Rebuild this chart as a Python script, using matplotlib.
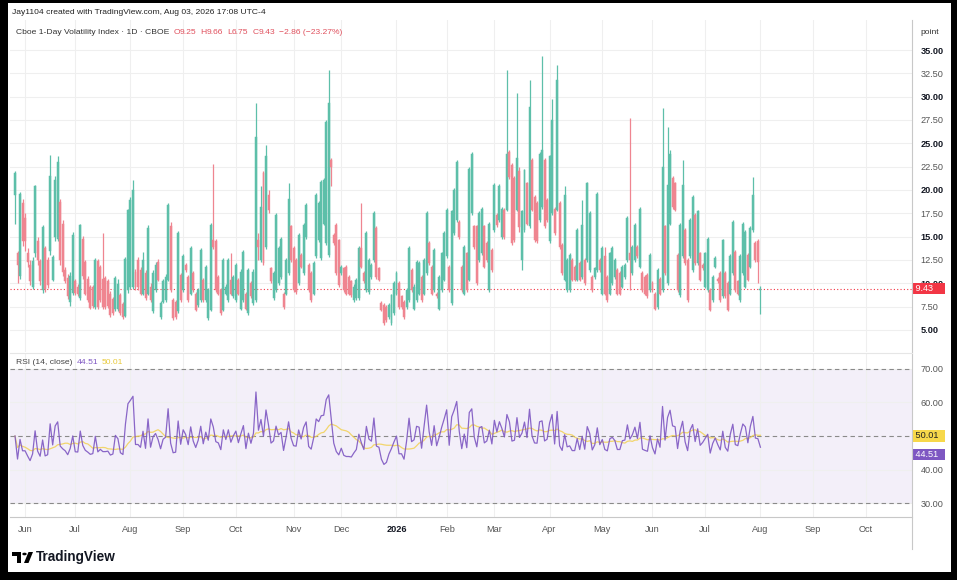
import numpy as np
import pandas as pd
import matplotlib
matplotlib.use("Agg")
import matplotlib.pyplot as plt
from matplotlib.patches import Rectangle, Circle, Polygon
from matplotlib.lines import Line2D
from matplotlib.transforms import blended_transform_factory

# daily candles, Cboe 1-Day Volatility Index
opens = [
    19.5, 13.2, 10.8, 18.6, 17.0, 13.3, 12.0, 9.6, 13.2, 14.5,
    12.4, 9.3, 13.8, 12.5, 13.5, 10.4, 15.0, 14.7, 18.7, 16.4,
    11.4, 10.6, 8.0, 9.0, 10.3, 9.6, 8.4, 14.8, 12.3, 10.5,
    9.6, 9.6, 7.5, 12.4, 11.8, 10.5, 10.6, 10.3, 8.9, 8.3,
    7.2, 7.2, 8.8, 7.8, 6.5, 9.3, 9.6, 9.6, 11.2, 12.5,
    11.4, 8.9, 11.1, 8.9, 9.65, 7.0, 9.3, 12.3, 6.4, 8.05,
    8.2, 10.4, 16.1, 8.2, 8.05, 7.0, 10.9, 9.3, 12.0, 10.7,
    8.9, 11.1, 8.9, 7.7, 8.2, 10.4, 8.2, 6.25, 7.15, 14.6,
    14.5, 10.7, 9.3, 7.15, 8.9, 8.2, 10.4, 8.6, 8.2, 10.4,
    7.3, 8.2, 8.9, 6.8, 10.0, 7.9, 8.2, 14.6, 12.5, 21.8,
    13.9, 19.5, 11.6, 8.4, 9.3, 10.0, 10.7, 8.9, 8.9, 11.1,
    16.1, 13.8, 12.5, 10.0, 13.0, 11.1, 15.0, 12.0, 11.1, 8.9,
    12.9, 14.6, 12.7, 16.4, 14.3, 13.0, 23.2, 15.2, 16.25, 14.6,
    11.1, 11.6, 11.8, 10.7, 10.2, 8.2, 8.4, 8.4, 13.8, 11.1,
    9.3, 9.1, 10.7, 12.5, 15.9, 11.6, 7.9, 7.7, 7.5, 6.4,
    5.7, 6.8, 8.9, 10.0, 8.6, 8.05, 7.5, 8.2, 11.4, 7.3,
    8.2, 8.9, 10.7, 8.9, 11.1, 14.3, 11.8, 9.3, 8.9, 7.3,
    9.3, 10.4, 12.9, 11.8, 7.9, 15.4, 16.8, 16.6, 11.8, 8.9,
    13.2, 10.4, 17.5, 16.1, 16.1, 12.5, 13.2, 16.1, 14.3, 9.3,
    13.6, 15.7, 17.3, 16.8, 15.0, 17.9, 17.9, 24.1, 22.7, 21.25,
    17.9, 22.0, 12.5, 15.7, 20.7, 16.1, 23.2, 19.3, 18.6, 16.8,
    18.2, 23.2, 18.9, 14.5, 17.5, 18.0, 17.9, 18.6, 14.1, 10.4,
    9.3, 9.3, 12.5, 11.8, 10.4, 12.15, 10.7, 12.5, 12.5, 11.4,
    10.7, 10.7, 11.4, 12.5, 8.9, 12.9, 10.7, 8.9, 10.0, 10.7,
    11.4, 11.1, 9.65, 10.7, 12.5, 13.2, 11.1, 12.5, 13.9, 11.8,
    11.1, 10.7, 10.9, 9.3, 10.0, 8.9, 7.5, 10.5, 9.3, 16.1,
    10.0, 16.4, 21.25, 20.7, 13.0, 8.75, 12.9, 15.7, 12.5, 12.9,
    11.4, 17.3, 12.15, 13.2, 12.0, 9.65, 9.3, 9.3, 8.2, 11.8,
    10.5, 11.1, 8.6, 11.1, 10.0, 8.9, 11.1, 13.4, 10.2, 8.2,
    11.1, 9.65, 13.0, 11.8, 15.7, 14.3, 14.5, 9.25,
]
highs = [
    22.0, 13.5, 19.8, 19.0, 17.5, 13.8, 12.5, 12.8, 20.5, 15.0,
    12.6, 16.3, 14.0, 12.8, 23.8, 13.0, 21.5, 23.6, 19.0, 16.8,
    11.8, 11.0, 11.2, 15.5, 10.5, 9.9, 16.4, 15.1, 12.5, 10.8,
    9.8, 9.8, 12.7, 12.6, 12.0, 15.4, 10.8, 10.5, 9.2, 8.5,
    10.8, 10.5, 9.0, 8.0, 12.8, 18.0, 19.2, 21.1, 11.5, 12.8,
    11.8, 13.4, 11.4, 16.2, 10.0, 11.4, 12.3, 12.6, 8.1, 10.5,
    11.0, 18.6, 16.6, 8.4, 8.2, 15.6, 11.1, 13.1, 12.2, 10.9,
    14.0, 11.3, 9.1, 9.5, 13.8, 10.6, 12.0, 9.5, 16.5, 22.8,
    14.7, 10.9, 9.5, 12.7, 9.9, 12.7, 13.2, 10.9, 12.2, 10.6,
    11.5, 13.6, 9.1, 11.6, 10.2, 11.5, 29.3, 15.4, 20.4, 22.0,
    24.8, 20.0, 11.8, 11.3, 17.5, 14.0, 15.0, 9.1, 12.7, 20.8,
    16.3, 14.0, 12.7, 15.4, 13.2, 16.5, 18.6, 12.2, 11.3, 12.4,
    19.7, 18.8, 21.1, 21.3, 27.5, 32.9, 23.4, 15.4, 16.5, 14.8,
    12.0, 11.8, 12.0, 10.9, 10.4, 9.9, 10.6, 14.0, 18.6, 11.3,
    15.6, 12.7, 12.2, 17.7, 16.1, 11.8, 8.1, 7.9, 7.7, 7.9,
    8.9, 10.2, 11.3, 10.2, 8.8, 8.2, 9.5, 14.0, 11.6, 9.9,
    12.5, 12.4, 10.9, 12.7, 17.7, 14.5, 12.0, 13.8, 9.1, 10.9,
    13.4, 15.6, 18.1, 12.0, 17.9, 20.2, 23.2, 16.8, 12.0, 14.1,
    13.4, 22.5, 24.1, 16.3, 16.3, 17.7, 18.2, 16.3, 14.5, 16.6,
    13.8, 20.7, 17.5, 20.6, 18.2, 18.1, 32.9, 24.3, 22.9, 21.5,
    30.4, 22.5, 17.9, 22.3, 20.9, 31.8, 23.4, 19.5, 18.8, 24.1,
    34.4, 23.4, 19.1, 23.8, 29.8, 18.2, 33.4, 18.8, 14.3, 20.4,
    12.7, 13.2, 12.7, 12.0, 15.9, 12.4, 18.9, 12.7, 20.9, 17.7,
    10.9, 11.8, 19.8, 12.7, 14.0, 13.9, 10.9, 13.4, 14.0, 12.7,
    11.6, 11.3, 12.0, 12.2, 17.2, 27.7, 14.1, 16.5, 14.1, 18.2,
    11.3, 10.9, 11.1, 13.2, 10.2, 9.1, 11.6, 10.7, 28.8, 16.3,
    26.8, 24.3, 21.5, 20.9, 13.2, 16.5, 23.2, 15.9, 12.7, 17.0,
    19.5, 17.5, 17.9, 13.4, 12.2, 13.4, 15.0, 9.5, 10.9, 12.9,
    10.7, 11.3, 14.8, 11.3, 10.2, 13.1, 16.8, 13.6, 10.4, 13.1,
    16.6, 15.7, 13.2, 16.1, 21.4, 14.5, 14.7, 9.66,
]
lows = [
    16.4, 10.0, 10.5, 14.0, 13.5, 11.8, 9.8, 9.4, 12.8, 12.0,
    9.8, 9.0, 9.1, 9.5, 13.0, 10.2, 14.5, 14.5, 12.0, 10.8,
    10.0, 8.3, 7.6, 8.8, 8.8, 8.6, 8.2, 10.5, 8.7, 8.0,
    7.2, 7.4, 7.3, 7.3, 8.0, 7.3, 7.3, 7.4, 6.4, 6.6,
    7.0, 7.0, 6.6, 6.2, 6.4, 9.0, 9.4, 9.4, 9.3, 9.3,
    8.7, 8.7, 8.2, 8.7, 8.0, 6.8, 9.1, 10.2, 6.2, 7.9,
    8.0, 10.2, 9.1, 6.1, 6.2, 6.8, 8.0, 9.1, 11.2, 8.0,
    8.7, 9.1, 7.0, 7.5, 8.0, 8.0, 8.0, 6.1, 7.0, 13.7,
    9.1, 8.7, 6.6, 7.0, 8.7, 8.0, 8.7, 8.4, 8.0, 8.7,
    7.1, 8.0, 7.1, 6.6, 8.4, 7.7, 8.0, 12.5, 12.3, 12.0,
    13.7, 17.5, 10.0, 8.2, 9.1, 9.8, 10.5, 7.3, 8.7, 10.9,
    12.3, 9.1, 8.9, 9.8, 11.6, 10.9, 14.8, 9.1, 8.0, 8.7,
    12.7, 14.4, 12.5, 16.2, 14.1, 12.8, 20.4, 14.1, 10.9, 9.6,
    10.9, 9.1, 8.7, 8.7, 8.5, 8.0, 8.2, 8.2, 11.6, 10.0,
    9.1, 8.9, 10.5, 12.3, 10.5, 10.2, 7.0, 5.5, 5.9, 6.2,
    5.5, 6.6, 8.7, 7.3, 7.3, 6.2, 7.3, 8.0, 9.1, 7.1,
    8.0, 8.7, 8.0, 8.7, 10.9, 12.0, 8.7, 9.1, 8.4, 7.1,
    9.1, 10.2, 12.7, 9.1, 7.7, 15.2, 16.6, 14.8, 9.1, 8.7,
    9.1, 10.2, 17.3, 13.7, 9.8, 12.3, 13.0, 11.6, 12.3, 9.1,
    11.2, 15.5, 16.0, 16.6, 14.8, 14.8, 17.7, 21.2, 14.1, 14.4,
    17.7, 15.5, 11.4, 15.5, 16.2, 15.9, 17.7, 14.4, 14.3, 16.6,
    18.0, 15.9, 16.6, 14.3, 17.3, 15.2, 17.7, 13.7, 10.9, 10.2,
    9.1, 9.1, 10.2, 10.2, 10.2, 10.2, 10.5, 9.8, 12.3, 11.2,
    9.1, 10.5, 11.2, 11.2, 8.7, 8.7, 8.0, 8.7, 9.8, 10.5,
    8.7, 8.7, 9.5, 10.5, 12.3, 9.3, 10.9, 12.3, 12.7, 11.6,
    9.1, 8.7, 8.4, 9.1, 9.1, 7.1, 7.3, 8.7, 9.1, 10.9,
    9.8, 16.2, 18.0, 17.7, 9.1, 8.5, 12.7, 12.0, 8.0, 12.7,
    11.2, 12.0, 12.0, 10.2, 11.4, 9.5, 9.1, 7.0, 8.0, 11.6,
    10.0, 8.0, 8.4, 8.4, 7.0, 8.7, 10.9, 9.1, 8.7, 8.0,
    10.9, 9.5, 10.2, 11.6, 15.5, 12.3, 10.0, 6.75,
]
closes = [
    21.8, 12.0, 19.6, 14.5, 14.5, 12.3, 10.3, 12.4, 20.4, 12.5,
    10.3, 16.0, 9.4, 9.8, 21.5, 12.8, 21.1, 23.0, 12.5, 11.2,
    10.3, 8.6, 10.8, 15.2, 9.0, 8.9, 16.2, 10.8, 8.9, 8.2,
    7.4, 7.6, 12.5, 7.5, 8.2, 7.5, 7.5, 7.6, 6.6, 6.8,
    10.6, 9.9, 6.8, 6.4, 12.6, 17.9, 18.9, 20.0, 9.6, 9.6,
    8.9, 12.5, 8.4, 15.9, 8.2, 11.1, 12.0, 10.4, 7.9, 10.2,
    10.7, 18.4, 9.3, 6.25, 6.4, 15.4, 8.2, 12.9, 11.4, 8.2,
    13.8, 9.3, 7.15, 9.3, 13.6, 8.2, 11.8, 9.3, 16.25, 13.9,
    9.3, 8.9, 6.8, 12.5, 9.65, 12.5, 8.9, 10.7, 12.0, 8.9,
    11.25, 13.4, 7.3, 11.4, 8.6, 11.25, 25.7, 13.9, 18.2, 12.15,
    23.6, 17.9, 10.2, 11.1, 17.3, 13.8, 14.8, 7.5, 12.5, 19.0,
    12.5, 9.3, 9.1, 15.2, 11.8, 16.25, 18.4, 9.3, 8.2, 12.15,
    19.5, 18.6, 20.9, 21.1, 27.3, 29.3, 22.5, 14.3, 11.1, 9.8,
    11.8, 9.3, 8.9, 8.9, 8.75, 9.65, 10.4, 13.8, 11.8, 10.2,
    15.4, 12.5, 12.0, 17.5, 10.7, 10.4, 7.15, 5.7, 6.1, 7.7,
    8.75, 10.0, 11.1, 7.5, 7.5, 6.4, 9.3, 13.8, 9.3, 9.65,
    12.3, 12.15, 8.2, 12.5, 17.5, 12.15, 8.9, 13.6, 8.6, 10.7,
    13.2, 15.4, 17.9, 9.3, 17.7, 20.0, 23.0, 15.0, 9.3, 13.9,
    9.3, 22.3, 23.9, 13.9, 10.0, 17.5, 18.0, 11.8, 12.5, 16.4,
    11.4, 20.5, 16.25, 20.4, 18.0, 15.0, 23.9, 21.4, 14.3, 14.6,
    23.4, 16.0, 17.7, 22.1, 16.4, 28.9, 17.9, 14.6, 14.5, 23.9,
    24.3, 16.1, 16.8, 23.6, 27.5, 15.4, 31.8, 13.9, 11.1, 19.5,
    12.5, 13.0, 10.4, 10.4, 15.7, 10.4, 16.25, 10.0, 20.7, 17.5,
    9.3, 11.6, 19.6, 11.4, 13.8, 8.9, 8.2, 13.2, 13.8, 12.5,
    8.9, 8.9, 11.8, 12.0, 17.0, 12.5, 13.9, 16.25, 12.9, 18.0,
    9.3, 8.9, 8.6, 13.0, 9.3, 7.3, 11.4, 8.9, 22.5, 11.1,
    20.5, 23.9, 18.2, 17.9, 9.3, 16.25, 20.5, 12.15, 8.2, 16.8,
    19.3, 12.15, 17.7, 10.4, 11.6, 13.2, 14.8, 7.15, 10.7, 12.7,
    10.2, 8.2, 14.6, 8.6, 7.15, 12.9, 16.6, 9.3, 8.9, 12.9,
    16.4, 15.5, 10.4, 15.9, 19.5, 12.5, 12.29, 9.43,
]

holidays = ["2025-05-26", "2025-06-19", "2025-07-04", "2025-09-01", "2025-11-27",
            "2025-12-25", "2026-01-01", "2026-01-19", "2026-02-16", "2026-04-03",
            "2026-05-25", "2026-06-19", "2026-07-03", "2026-09-07"]
last_day = "2026-08-03"
axis_end = "2026-10-30"

price_ticks = [5, 7.5, 10, 12.5, 15, 17.5, 20, 22.5, 25, 27.5, 30, 32.5, 35]
rsi_ticks = [30, 40, 60, 70]
rsi_text = ["44.51", "50.01"]
change_text = "\u22122.86 (\u221223.27%)"

GREEN = "#5dbfa9"
RED = "#ef8590"
PURPLE = "#7e57c2"
YELLOW = "#f2cf4a"
GRID = "#efefef"
LEG_RED = "#e0505d"
FS = 6.1

plt.rcParams["font.family"] = ["Liberation Sans", "DejaVu Sans"]

W, H = 957, 580


def fx(x):
    return x / W


def fy(y):
    return 1 - y / H


n = len(closes)
days = pd.bdate_range("2025-05-01", axis_end, freq="C", holidays=holidays)
k = days.get_loc(pd.Timestamp(last_day))
axis_days = days[k - n + 1:]
xs = np.arange(n)

month_pos, month_lab = [], []
for i in range(1, len(axis_days)):
    if axis_days[i].month != axis_days[i - 1].month:
        month_pos.append(i)
        month_lab.append("2026" if axis_days[i].month == 1 else axis_days[i].strftime("%b"))


def wilder_rsi(values, length=14):
    # the chart has history before its first bar, so start from a balanced state
    ch = np.diff(values, prepend=values[0])
    seed = np.mean(np.abs(ch[1:length + 1])) / 2
    ag, al = seed, seed
    out = []
    for dv in ch:
        ag = (ag * (length - 1) + max(dv, 0)) / length
        al = (al * (length - 1) + max(-dv, 0)) / length
        out.append(100 - 100 / (1 + ag / al))
    return pd.Series(out)


rsi = wilder_rsi(np.array(closes))
rsi_ma = rsi.rolling(14, min_periods=1).mean()

fig = plt.figure(figsize=(W / 100, H / 100), dpi=100, facecolor="black")
fig.patches.append(Rectangle((fx(8), fy(572)), fx(951) - fx(8), fy(3) - fy(572),
                             transform=fig.transFigure, fc="white", ec="none", zorder=-10))

left, right = fx(10), fx(912)
ax = fig.add_axes([left, fy(352), right - left, fy(20) - fy(352)])
ax2 = fig.add_axes([left, fy(517), right - left, fy(353) - fy(517)])

x_lo = n - 1 - 299.0
x_hi = n - 1 + 60.4
for a in (ax, ax2):
    a.set_xlim(x_lo, x_hi)
    a.set_facecolor("none")
    for s in a.spines.values():
        s.set_visible(False)
    a.set_xticks(month_pos)
    a.grid(True, color=GRID, lw=0.8)
    a.set_axisbelow(True)
    a.yaxis.tick_right()
    a.tick_params(length=0, labelsize=6.6, colors="#555555", pad=6)

# candles
o = np.array(opens)
h = np.array(highs)
lo = np.array(lows)
cl = np.array(closes)
cols = np.where(cl >= o, GREEN, RED)
ax.vlines(xs, lo, h, colors=cols, lw=0.9, zorder=3)
body_lo = np.minimum(o, cl)
body_h = np.maximum(np.abs(cl - o), 0.12)
ax.bar(xs, body_h, bottom=body_lo, width=0.78, color=cols, edgecolor=cols,
       lw=0.35, zorder=4)

ax.set_ylim(35 - 302 / 9.333, 35 + 30 / 9.333)
ax.set_yticks(price_ticks)
ax.set_yticklabels([f"{t:.2f}" for t in price_ticks])
for t, lab in zip(price_ticks, ax.get_yticklabels()):
    if t % 5 == 0:
        lab.set_color("#131722")
        lab.set_fontweight("bold")
ax.tick_params(axis="x", labelbottom=False)
ax.axhline(cl[-1], color="#f23645", lw=0.8, ls=(0, (1, 2)), zorder=2)

# RSI pane
ax2.axhspan(30, 70, color=PURPLE, alpha=0.09, lw=0, zorder=0)
for lvl in (30, 50, 70):
    ax2.axhline(lvl, color="#8a8a8a", lw=0.8, ls=(0, (4, 3)), zorder=1)
ax2.plot(xs, rsi_ma, color=YELLOW, lw=0.9, alpha=0.8, zorder=2)
ax2.plot(xs, rsi, color=PURPLE, lw=0.9, alpha=0.9, zorder=3)
ax2.set_ylim(30 - 14 / 3.375, 70 + 16 / 3.375)
ax2.set_yticks(rsi_ticks)
ax2.set_yticklabels([f"{t:.2f}" for t in rsi_ticks])
ax2.set_xticklabels(month_lab)
for lab in ax2.get_xticklabels():
    if lab.get_text() == "2026":
        lab.set_fontweight("bold")
        lab.set_color("#131722")


# value tags on the right scale
def tag(a, val, text, fc, tc):
    tr = blended_transform_factory(a.transAxes, a.transData)
    a.text(1.0015, val, text, transform=tr, ha="left", va="center", fontsize=6.6,
           color=tc, clip_on=False, zorder=10,
           bbox=dict(boxstyle="square,pad=0.14", fc=fc, ec="none"))


tag(ax, cl[-1], f" {cl[-1]:.2f}    ", "#f23645", "white")
tag(ax2, float(rsi_text[1]), f" {rsi_text[1]}  ", "#f7d84a", "#222222")
tag(ax2, float(rsi_text[0]), f" {rsi_text[0]}  ", PURPLE, "white")

# frame lines
fig.add_artist(Line2D([fx(912), fx(912)], [fy(20), fy(549)], color="#c8c8c8", lw=0.8))
fig.add_artist(Line2D([fx(10), fx(912)], [fy(517), fy(517)], color="#c8c8c8", lw=0.8))
fig.add_artist(Line2D([fx(10), fx(912)], [fy(352.5), fy(352.5)], color="#e6e6e6", lw=0.8))

renderer = fig.canvas.get_renderer()


def text_row(x0, y, parts, gap=4):
    # lay pieces out one after another, each in its own colour
    x = x0
    for s, col, g in parts:
        t = fig.text(fx(x), fy(y), s, fontsize=FS, color=col, va="center")
        x += t.get_window_extent(renderer).width + (gap if g else 0)


fig.text(fx(12), fy(12), "Jay1104 created with TradingView.com, Aug 03, 2026 17:08 UTC-4",
         fontsize=FS, color="#222222", va="center")
text_row(16, 32, [
    ("Cboe 1-Day Volatility Index \u00b7 1D \u00b7 CBOE", "#333333", True),
    ("O", LEG_RED, False), (f"{opens[-1]:.2f}", LEG_RED, True),
    ("H", LEG_RED, False), (f"{highs[-1]:.2f}", LEG_RED, True),
    ("L", LEG_RED, False), (f"{lows[-1]:.2f}", LEG_RED, True),
    ("C", LEG_RED, False), (f"{closes[-1]:.2f}", LEG_RED, True),
    (change_text, LEG_RED, True),
])
text_row(16, 362, [
    ("RSI (14, close)", "#444444", True),
    (rsi_text[0], PURPLE, True),
    (rsi_text[1], "#e8c93a", True),
])
fig.text(fx(920), fy(33), "point", fontsize=FS, color="#333333", va="center")

# TradingView logo
T = fig.transFigure
fig.patches.append(Rectangle((fx(12), fy(556)), fx(21) - fx(12), fy(552) - fy(556),
                             transform=T, fc="black", ec="none"))
fig.patches.append(Rectangle((fx(16.5), fy(563)), fx(21) - fx(16.5), fy(552) - fy(563),
                             transform=T, fc="black", ec="none"))
fig.patches.append(Polygon([(fx(24), fy(563)), (fx(28.5), fy(563)), (fx(33), fy(552)),
                            (fx(28.5), fy(552))], closed=True, transform=T,
                           fc="black", ec="none"))
fig.patches.append(Circle((fx(24.5), fy(554)), 2.2 / W, transform=T, fc="black", ec="none"))
fig.text(fx(36), fy(557.5), "TradingView", fontsize=9.8, fontweight="bold",
         color="#131722", va="center")

fig.savefig("out.png", dpi=100, facecolor="black")
